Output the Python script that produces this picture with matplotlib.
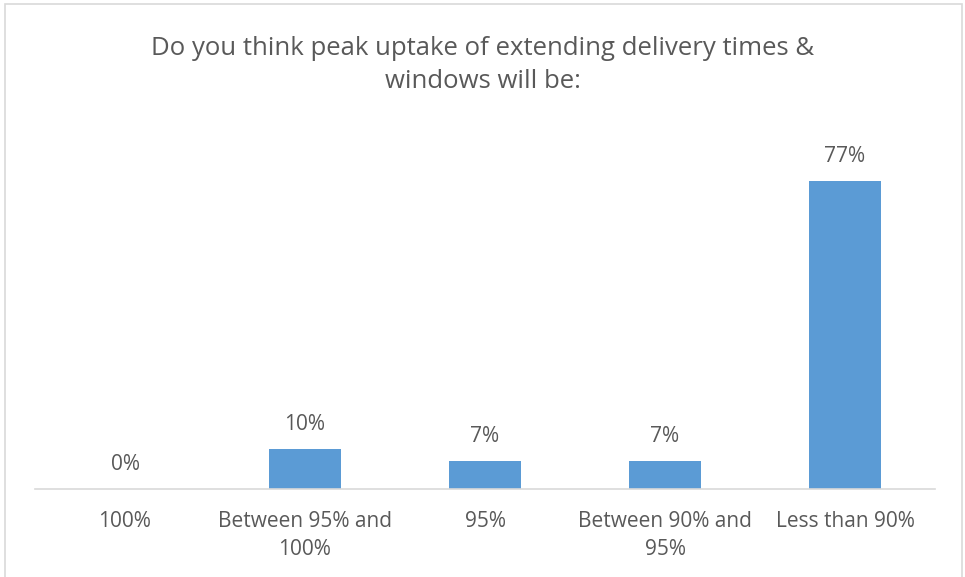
import matplotlib.pyplot as plt
from matplotlib.patches import Rectangle

categories = ["100%", "Between 95% and\n100%", "95%", "Between 90% and\n95%", "Less than 90%"]
shares = [0, 10, 7, 7, 77]

text_grey = "#595959"
bar_blue = "#5B9BD5"

plt.rcParams["font.family"] = ["Open Sans", "DejaVu Sans"]

fig = plt.figure(figsize=(9.65, 5.77), dpi=100)
ax = fig.add_axes([35 / 965, 88 / 577, 900 / 965, 320 / 577])

x = range(len(categories))
ax.bar(x, shares, width=0.4, color=bar_blue)
ax.set_xlim(-0.5, len(categories) - 0.5)
ax.set_ylim(0, 80)

# value labels above each bar
for xi, v in zip(x, shares):
    ax.annotate(f"{v}%", (xi, v), xytext=(0, 10), textcoords="offset points",
                ha="center", va="bottom", fontsize=15, color=text_grey)

ax.set_xticks(list(x))
ax.set_xticklabels(categories, fontsize=15, color=text_grey, linespacing=1.42)
ax.tick_params(axis="x", length=0, pad=16)
ax.set_yticks([])
for side in ["top", "right", "left"]:
    ax.spines[side].set_visible(False)
ax.spines["bottom"].set_color("#D9D9D9")
ax.spines["bottom"].set_linewidth(1.2)

fig.text(0.5, 1 - 65 / 577, "Do you think peak uptake of extending delivery times &\nwindows will be:",
         ha="center", va="center", fontsize=18.5, color=text_grey, linespacing=1.45)

# chart area border
fig.patches.append(Rectangle((5 / 965, -0.01), 957 / 965, 1 - 4 / 577 + 0.01,
                             transform=fig.transFigure, fill=False,
                             edgecolor="#D9D9D9", linewidth=1.2))

fig.savefig("out.png", dpi=100, facecolor="white")
